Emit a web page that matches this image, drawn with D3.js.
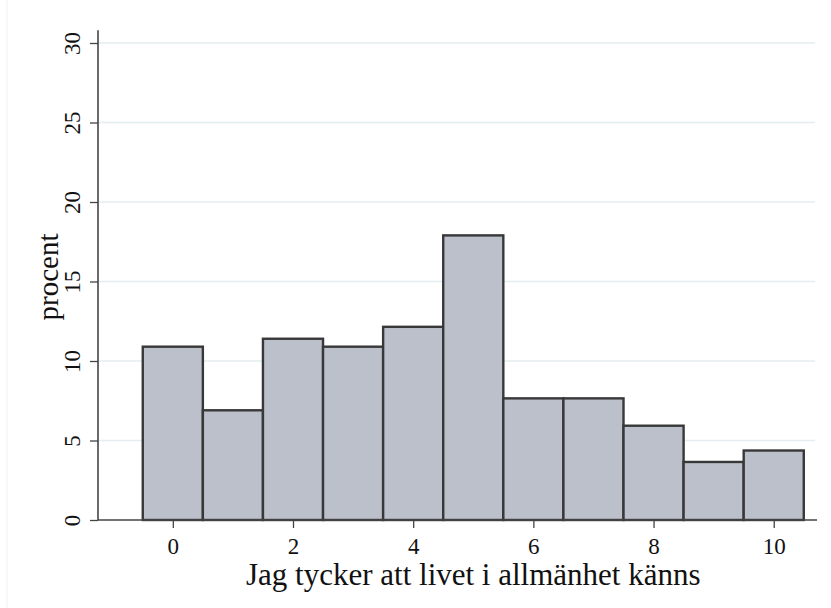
<!DOCTYPE html>
<html>
<head>
<meta charset="utf-8">
<script src="https://cdn.jsdelivr.net/npm/d3@7"></script>
<style>
  body { margin: 0; background: #fff; }
  text { font-family: "Liberation Serif", "Times New Roman", serif; fill: #111; }
</style>
</head>
<body>
<svg id="chart" width="831" height="608"></svg>
<script>
// answer categories 0..10, percent per category
var categories = [0, 1, 2, 3, 4, 5, 6, 7, 8, 9, 10];
var percent = [10.9, 6.9, 11.4, 10.9, 12.15, 17.9, 7.65, 7.65, 5.93, 3.65, 4.37];
var xTicks = [0, 2, 4, 6, 8, 10];
var yTicks = [0, 5, 10, 15, 20, 25, 30];
var xTitle = "Jag tycker att livet i allmänhet känns";
var yTitle = "procent";

var svg = d3.select("#chart");

var x = d3.scaleLinear().domain([-1.245, 10.72]).range([98, 817]);
var y = d3.scaleLinear().domain([0, 30]).range([520, 43]);

// faint graph frame on the left
svg.append("line")
    .attr("x1", 7).attr("x2", 7).attr("y1", 0).attr("y2", 608)
    .attr("stroke", "#f1f1f1").attr("stroke-width", 1);

// gridlines
svg.append("g")
    .selectAll("line")
    .data(yTicks.filter(function(d) { return d > 0 }))
    .join("line")
    .attr("x1", 98).attr("x2", 815)
    .attr("y1", function(d) { return y(d) })
    .attr("y2", function(d) { return y(d) })
    .attr("stroke", "#e4eef0")
    .attr("stroke-width", 1.3);

// bars
svg.append("g")
    .selectAll("rect")
    .data(categories)
    .join("rect")
    .attr("x", function(d) { return x(d - 0.5) })
    .attr("width", function(d) { return x(d + 0.5) - x(d - 0.5) })
    .attr("y", function(d, i) { return y(percent[i]) })
    .attr("height", function(d, i) { return y(0) - y(percent[i]) })
    .attr("fill", "#bbc0cb")
    .attr("stroke", "#383838")
    .attr("stroke-width", 2.4);

// x axis
var xAxis = svg.append("g")
    .attr("transform", "translate(0," + y(0) + ")")
    .call(d3.axisBottom(x).tickValues(xTicks).tickSize(8).tickSizeOuter(0));
xAxis.select(".domain").attr("d", "M" + x.range()[0] + ",0H" + x.range()[1])
    .attr("stroke", "#444").attr("stroke-width", 1.6);
xAxis.selectAll(".tick line").attr("stroke", "#444").attr("stroke-width", 1.3);
xAxis.selectAll(".tick text")
    .attr("font-family", "Liberation Serif, Times New Roman, serif")
    .attr("font-size", 23).attr("fill", "#111")
    .attr("dy", null).attr("y", 34);

// y axis
var yAxis = svg.append("g")
    .attr("transform", "translate(" + x.range()[0] + ",0)")
    .call(d3.axisLeft(y).tickValues(yTicks).tickSize(8).tickSizeOuter(0));
yAxis.select(".domain").attr("d", "M0," + y(30.8) + "V" + y(0))
    .attr("stroke", "#444").attr("stroke-width", 1.6);
yAxis.selectAll(".tick line").attr("stroke", "#444").attr("stroke-width", 1.3);
yAxis.selectAll(".tick text")
    .attr("font-family", "Liberation Serif, Times New Roman, serif")
    .attr("font-size", 23).attr("fill", "#111")
    .attr("x", null).attr("dy", null)
    .attr("text-anchor", "middle")
    .attr("transform", "translate(-18,0) rotate(-90)");

// axis titles
svg.append("text")
    .attr("x", (x(-0.5) + x(10.5)) / 2)
    .attr("y", 585)
    .attr("text-anchor", "middle")
    .attr("font-size", 31)
    .text(xTitle);

svg.append("text")
    .attr("transform", "translate(58,277) rotate(-90)")
    .attr("text-anchor", "middle")
    .attr("font-size", 29)
    .text(yTitle);
</script>
</body>
</html>
